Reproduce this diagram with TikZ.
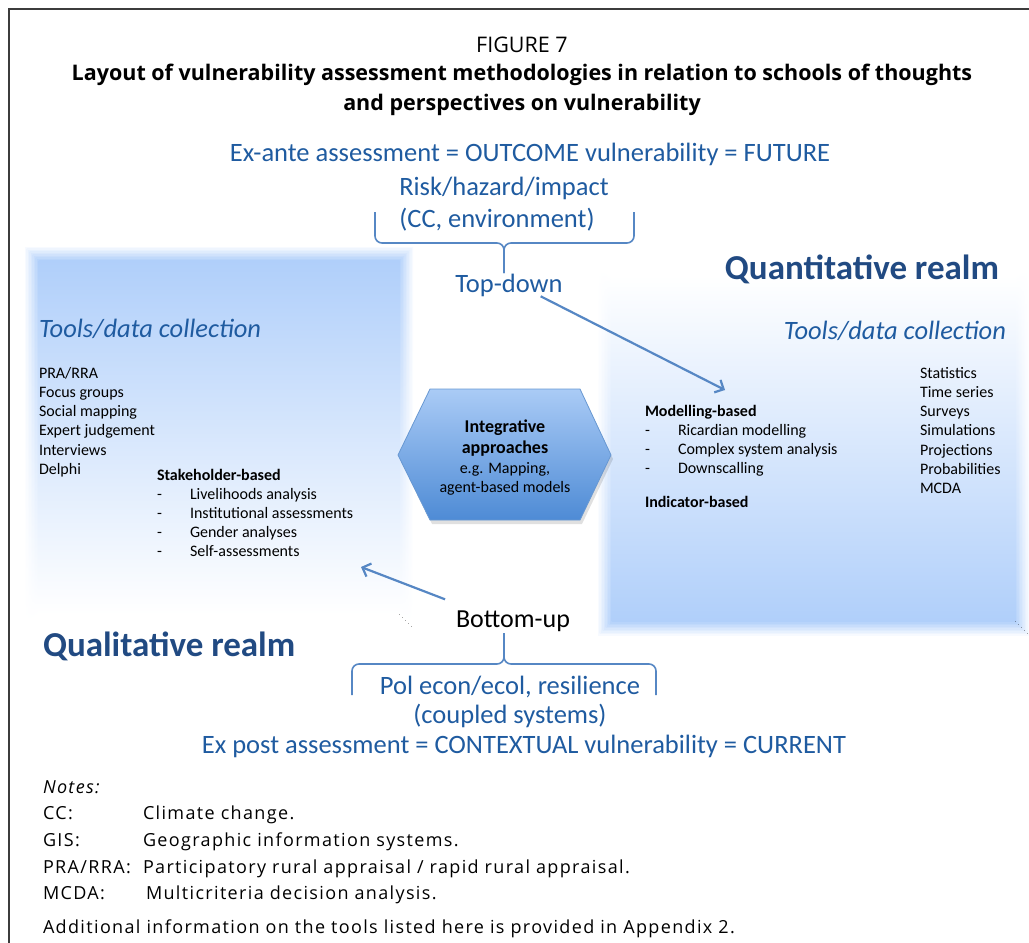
\documentclass[tikz,border=0pt]{standalone}
\usepackage{fontspec}
\setmainfont{Carlito}
\newfontfamily\headfont{Open Sans}
\newfontfamily\notefont[LetterSpace=7.5]{Open Sans}
\usetikzlibrary{arrows.meta,positioning}

\definecolor{headblue}{RGB}{31,91,160}
\definecolor{realmblue}{RGB}{33,74,130}
\definecolor{linkblue}{RGB}{86,135,196}
\definecolor{boxblue}{RGB}{176,207,250}
\definecolor{hextop}{RGB}{170,203,246}
\definecolor{hexbot}{RGB}{78,139,213}
\definecolor{hexline}{RGB}{104,152,210}
\definecolor{framegray}{RGB}{60,60,60}

\newcommand{\fs}[1]{\fontsize{#1}{#1}\selectfont}

\begin{document}
\begin{tikzpicture}[x=1pt,y=-1pt,
  every node/.style={inner sep=0pt,outer sep=0pt,anchor=base},
  head/.style={text=headblue,font=\fs{26.5}},
  realm/.style={text=realmblue,font=\bfseries\fs{35}},
  tools/.style={text=headblue,font=\itshape\fs{26.5}},
  item/.style={anchor=base west,font=\fs{16}},
  note/.style={anchor=base west,font=\notefont\fs{18}},
  hexagon/.style={draw=hexline,line width=0.8pt,top color=hextop,bottom color=hexbot},
  link/.style={draw=linkblue,line width=2.2pt,-{Straight Barb[length=7pt,width=14pt]}},
  brace/.style={draw=linkblue,line width=1.6pt,rounded corners=7pt}
]
\useasboundingbox (0,0) rectangle (1029,943);

% frame
\draw[framegray,line width=1.5pt] (9,943) -- (9,9) -- (1029,9);

% soft realm boxes
\foreach \i [evaluate=\i as \k using int(10*\i+10)] in {0,...,9}{
  \fill[top color=boxblue!\k!white,bottom color=white] (25+1.5*\i,247+1.5*\i) rectangle (413-1.5*\i,628-1.5*\i);
  \fill[top color=white,bottom color=boxblue!\k!white] (598+1.5*\i,262+1.5*\i) rectangle (1029-1.5*\i,635-1.5*\i);
}

% heading
\node[font=\headfont\fs{21.5}] (fig) at (522,52) {FIGURE 7};
\node[font=\headfont\bfseries\fs{21.5}] (title1) at (522,80) {Layout of vulnerability assessment methodologies in relation to schools of thoughts};
\node[font=\headfont\bfseries\fs{21.5}] (title2) at (522,110) {and perspectives on vulnerability};

% top-down side
\node[head] (exante) at (530,161) {Ex-ante assessment = OUTCOME vulnerability = FUTURE};
\node[head] (risk) at (504,195) {Risk/hazard/impact};
\node[head] (cc) at (497,227) {(CC, environment)};
\node[head] (topdown) at (509,292) {Top-down};
\coordinate (tdtip) at (504,273);
\draw[brace] (375,212) |- (504,243) -- (tdtip);
\draw[brace] (634,212) |- (504,243) -- (tdtip);

% realms
\node[realm,anchor=base east] (quant) at (999,279) {Quantitative realm};
\node[tools,anchor=base east] (qntools) at (1006,339) {Tools/data collection};
\node[realm,anchor=base west] (qual) at (43,656) {Qualitative realm};
\node[tools,anchor=base west] (qltools) at (39,337) {Tools/data collection};

\foreach \t [count=\i] in {PRA/RRA,Focus groups,Social mapping,Expert judgement,Interviews,Delphi}
  \node[item] (qltool\i) at (39,378+19.3*\i-19.3) {\t};
\foreach \t [count=\i] in {Statistics,Time series,Surveys,Simulations,Projections,Probabilities,MCDA}
  \node[item] (qntool\i) at (920,378+19.3*\i-19.3) {\t};

\node[item,font=\bfseries\fs{16}] (stake) at (157,480) {Stakeholder-based};
\foreach \t [count=\i] in {Livelihoods analysis,Institutional assessments,Gender analyses,Self-assessments}{
  \node[item] (stdash\i) at (157,480+19*\i) {-};
  \node[item] (stake\i) at (190,480+19*\i) {\t};
}
\node[item,font=\bfseries\fs{16}] (model) at (645,416) {Modelling-based};
\foreach \t [count=\i] in {Ricardian modelling,Complex system analysis,Downscalling}{
  \node[item] (mddash\i) at (645,416+19*\i) {-};
  \node[item] (model\i) at (678,416+19*\i) {\t};
}
\node[item,font=\bfseries\fs{16}] (indic) at (645,507) {Indicator-based};

% integrative hexagon
\coordinate (hex) at (505,455);
\fill[black,opacity=0.12] (400,459) -- (432,393) -- (582,393) -- (613,459) -- (582,524) -- (432,524) -- cycle;
\path[hexagon] (398,455) -- (430,389) -- (580,389) -- (611,455) -- (580,520) -- (430,520) -- cycle;
\node[font=\bfseries\fs{18}] (hexa) at (505,432) {Integrative};
\node[font=\bfseries\fs{18}] (hexb) at (505,453) {approaches};
\node[font=\fs{16}] (hexc) at (505,473) {e.g. Mapping,};
\node[font=\fs{16}] (hexd) at (505,492) {agent-based models};

% arrows
\coordinate (tdarrow) at (725,390);
\draw[link] ([xshift=-22pt]topdown.south east) -- (tdarrow);
\node[font=\fs{26}] (bottomup) at (513,627) {Bottom-up};
\coordinate (buarrow) at (361,567);
\draw[link] ([xshift=-11pt,yshift=11pt]bottomup.north west) -- (buarrow);

% bottom-up side
\coordinate (butip) at (504,633);
\draw[brace] (352,695) |- (504,664) -- (butip);
\draw[brace] (656,695) |- (504,664) -- (butip);
\node[head] (polecon) at (510,694) {Pol econ/ecol, resilience};
\node[head] (coupled) at (510,723) {(coupled systems)};
\node[head] (expost) at (524,753) {Ex post assessment = CONTEXTUAL vulnerability = CURRENT};

% notes
\node[note,font=\notefont\itshape\fs{18}] (notes) at (43,793) {Notes:};
\node[note] (ccab) at (43,819) {CC:};
\node[note] (ccdef) at (143,819) {Climate change.};
\node[note] (gisab) at (43,846) {GIS:};
\node[note] (gisdef) at (143,846) {Geographic information systems.};
\node[note] (praab) at (43,873) {PRA/RRA:};
\node[note] (pradef) at (143,873) {Participatory rural appraisal / rapid rural appraisal.};
\node[note] (mcdaab) at (43,899) {MCDA:};
\node[note] (mcdadef) at (146,899) {Multicriteria decision analysis.};
\node[note] (addinfo) at (43,933) {Additional information on the tools listed here is provided in Appendix 2.};
\end{tikzpicture}
\end{document}
